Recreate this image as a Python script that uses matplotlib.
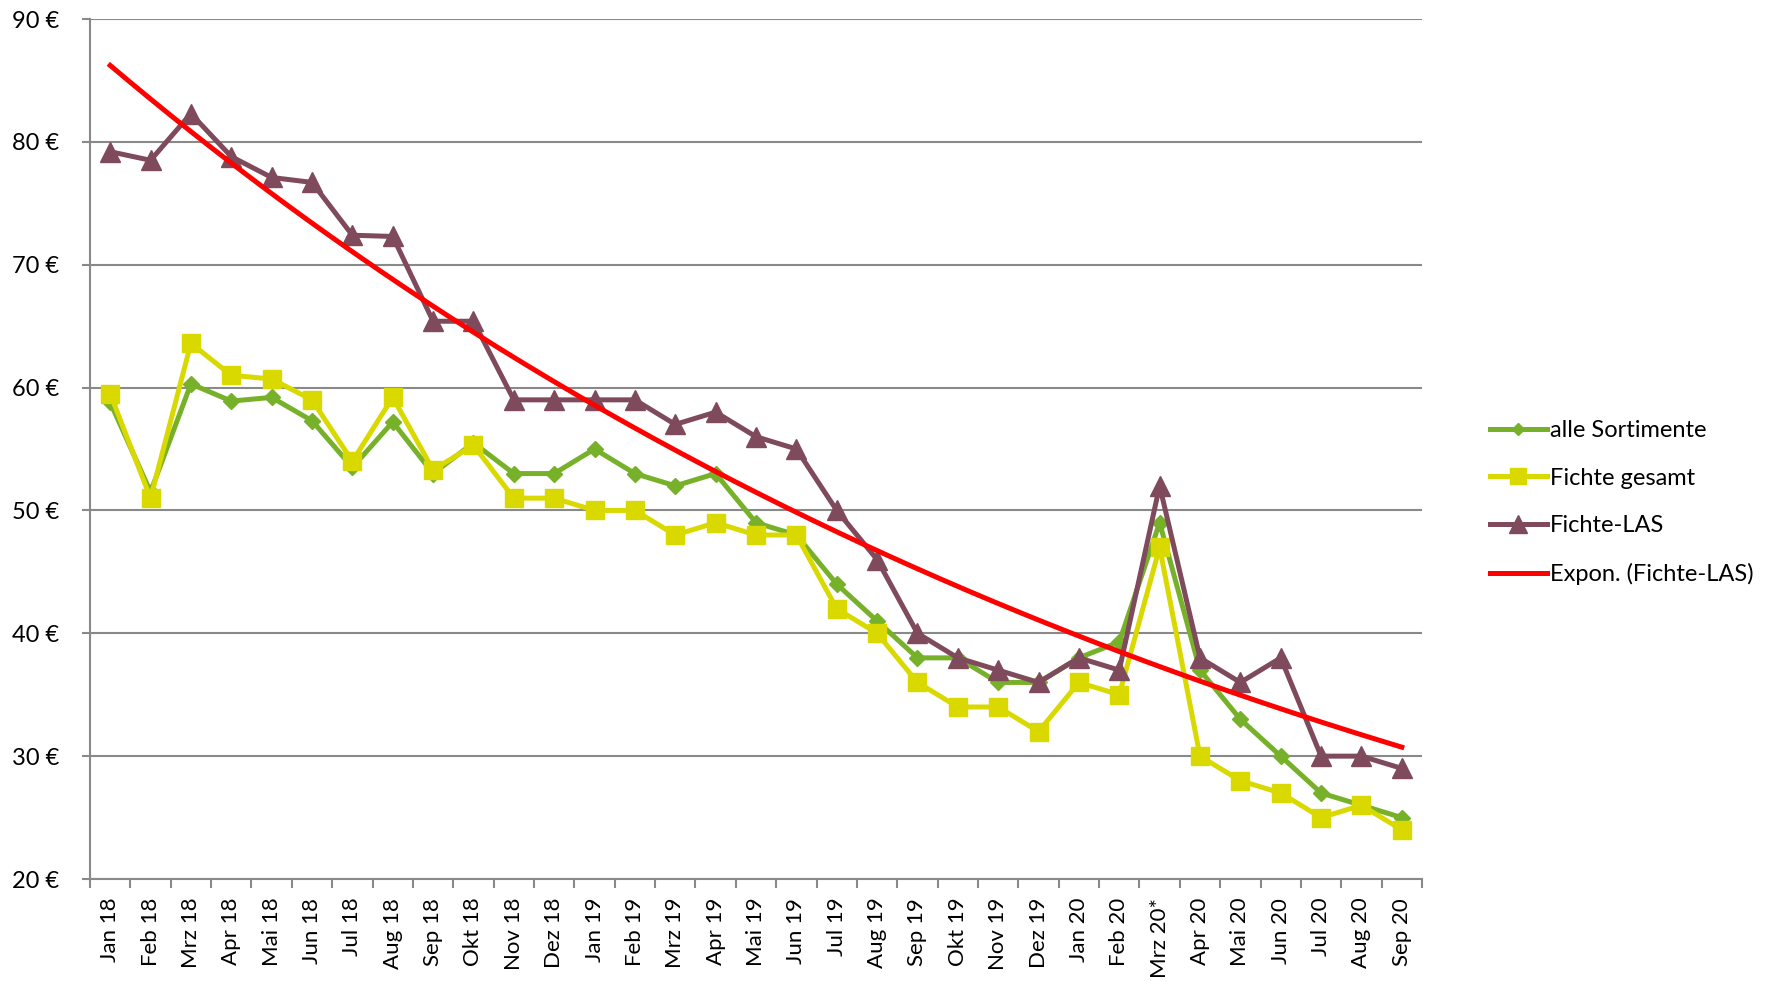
import numpy as np
import matplotlib
matplotlib.use("Agg")
import matplotlib.pyplot as plt
from matplotlib.ticker import FixedLocator

plt.rcParams['font.family'] = ['Lato', 'DejaVu Sans']

months = ["Jan 18", "Feb 18", "Mrz 18", "Apr 18", "Mai 18", "Jun 18", "Jul 18", "Aug 18",
          "Sep 18", "Okt 18", "Nov 18", "Dez 18", "Jan 19", "Feb 19", "Mrz 19", "Apr 19",
          "Mai 19", "Jun 19", "Jul 19", "Aug 19", "Sep 19", "Okt 19", "Nov 19", "Dez 19",
          "Jan 20", "Feb 20", "Mrz 20*", "Apr 20", "Mai 20", "Jun 20", "Jul 20", "Aug 20", "Sep 20"]

alle_sortimente = [58.8, 51.5, 60.3, 58.9, 59.2, 57.3, 53.5, 57.2, 53.0, 55.5, 53.0, 53.0,
                   55.0, 53.0, 52.0, 53.0, 49.0, 48.0, 44.0, 41.0, 38.0, 38.0, 36.0, 36.0,
                   38.0, 39.3, 49.0, 37.0, 33.0, 30.0, 27.0, 26.0, 25.0]
fichte_gesamt = [59.5, 51.0, 63.6, 61.0, 60.7, 59.0, 54.0, 59.2, 53.3, 55.3, 51.0, 51.0,
                 50.0, 50.0, 48.0, 49.0, 48.0, 48.0, 42.0, 40.0, 36.0, 34.0, 34.0, 32.0,
                 36.0, 35.0, 47.0, 30.0, 28.0, 27.0, 25.0, 26.0, 24.0]
fichte_las = [79.2, 78.5, 82.3, 78.8, 77.1, 76.7, 72.4, 72.3, 65.4, 65.4, 59.0, 59.0,
              59.0, 59.0, 57.0, 58.0, 56.0, 55.0, 50.0, 46.0, 40.0, 38.0, 37.0, 36.0,
              38.0, 37.0, 52.0, 38.0, 36.0, 38.0, 30.0, 30.0, 29.0]

y_ticks = [20, 30, 40, 50, 60, 70, 80, 90]
y_labels = ["20 €", "30 €", "40 €", "50 €", "60 €", "70 €", "80 €", "90 €"]

labels = ["alle Sortimente", "Fichte gesamt", "Fichte-LAS", "Expon. (Fichte-LAS)"]

W, H = 1775, 982
fig = plt.figure(figsize=(W / 100, H / 100), dpi=100)
ax = fig.add_axes([90 / W, 1 - 879 / H, (1422 - 90) / W, (879 - 19) / H])

x = np.arange(len(months))
green = "#77B12A"
yellow = "#D9D900"
maroon = "#7F4A5B"
red = "#FF0000"
grid = "#898989"

ax.plot(x, alle_sortimente, color=green, lw=3.6, marker="D", ms=8.5, label=labels[0], zorder=3)
ax.plot(x, fichte_gesamt, color=yellow, lw=3.6, marker="s", ms=13, label=labels[1], zorder=4)
ax.plot(x, fichte_las, color=maroon, lw=3.6, marker="^", ms=14.5, label=labels[2], zorder=5)

# Exponential trend line (least squares on log values, like Excel)
xi = x + 1
b, a = np.polyfit(xi, np.log(np.array(fichte_las)), 1)
xs = np.linspace(xi[0], xi[-1], 200)
ax.plot(xs - 1, np.exp(a + b * xs), color=red, lw=3.6, label=labels[3], zorder=6)

ax.set_xlim(-0.5, len(months) - 0.5)
ax.set_ylim(20, 90)
ax.set_yticks(y_ticks)
ax.set_yticklabels(y_labels)
ax.set_xticks(x)
ax.set_xticklabels(months, rotation=90)
ax.xaxis.set_minor_locator(FixedLocator(np.arange(-0.5, len(months), 1.0)))

ax.yaxis.grid(True, color=grid, lw=1.5)
ax.set_axisbelow(True)
for s in ["top", "right"]:
    ax.spines[s].set_visible(False)
for s in ["left", "bottom"]:
    ax.spines[s].set_color(grid)
    ax.spines[s].set_linewidth(1.5)

ax.tick_params(axis="y", length=6, width=1.5, color=grid, labelsize=17, pad=16, labelcolor="black")
ax.tick_params(axis="x", which="major", length=0, labelsize=16, pad=13.5, labelcolor="black")
ax.tick_params(axis="x", which="minor", length=6.5, width=1.5, color=grid)

leg = fig.legend(loc="upper left", bbox_to_anchor=(1490 / W, 1 - 420 / H), frameon=False,
                 fontsize=17, handlelength=2.4, handletextpad=0.15, labelspacing=1.13,
                 borderpad=0, borderaxespad=0)
for h, ms in zip(leg.legend_handles, [6.5, 12, 13, 0]):
    if ms:
        h.set_markersize(ms)

fig.savefig("out.png", dpi=100)
